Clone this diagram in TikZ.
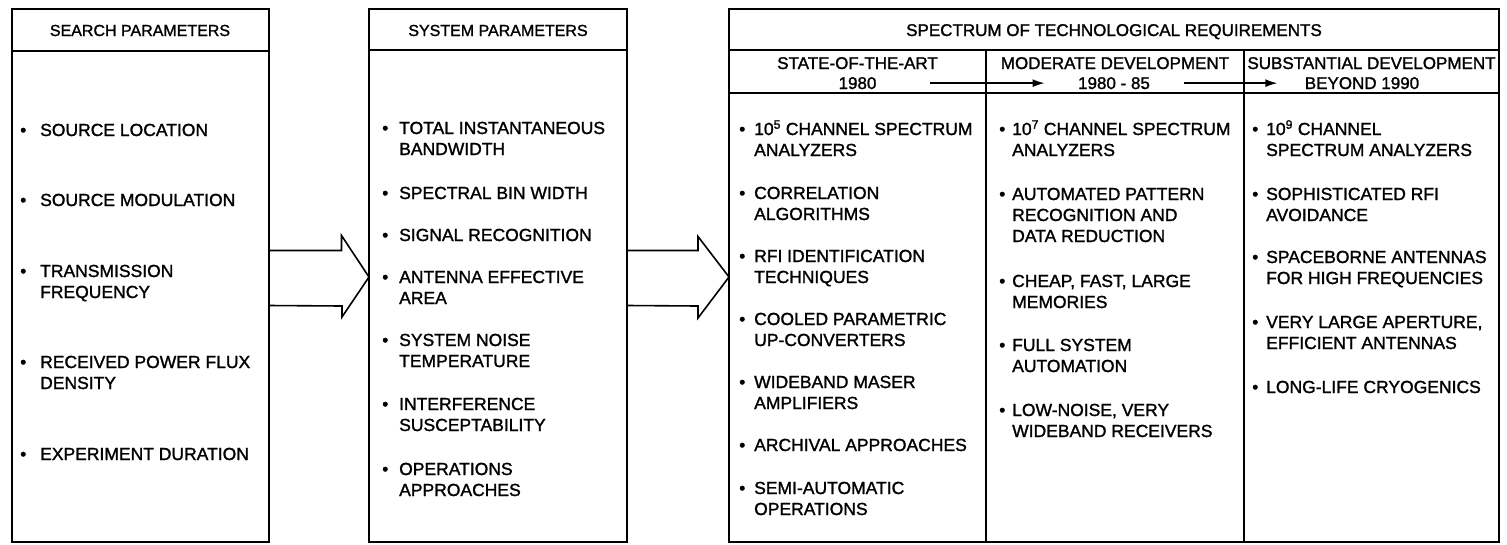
\documentclass[tikz,border=0pt]{standalone}
\usepackage{fontspec}
\setmainfont[FakeBold=1.4]{Liberation Sans}
\usetikzlibrary{arrows.meta, positioning}

% bulleted entry with hanging indent
\newcommand{\itm}[2][14pt]{\parbox[t]{240pt}{\hangindent=#1\hangafter=1\noindent\makebox[#1][l]{\textbullet}#2}}

\begin{document}
\begin{tikzpicture}[x=1pt, y=1pt,
  panel/.style={draw, line width=2pt, inner sep=0pt, outer sep=0pt, anchor=north west, minimum height=533pt},
  divider/.style={line width=2pt},
  hdr/.style={font=\fontsize{16}{19}\selectfont, anchor=base},
  colhdr/.style={font=\fontsize{17}{20}\selectfont, anchor=base},
  entry/.style={font=\fontsize{17.5}{21}\selectfont, anchor=base west, inner sep=0pt},
  bigarrow/.style={line width=1.6pt, line join=miter},
  yeararrow/.style={line width=1.4pt, -{Latex[length=12pt, width=8pt]}}]

  \useasboundingbox (0,0) rectangle (1507,-544);

  % the three panels
  \node[panel, minimum width=257pt] (search) at (11.5,-9) {};
  \node[panel, minimum width=258pt] (system) at (369,-9) {};
  \node[panel, minimum width=770pt] (spectrum) at (729,-9) {};

  \draw[divider] ([yshift=-42pt]search.north west) -- ([yshift=-42pt]search.north east);
  \draw[divider] ([yshift=-41pt]system.north west) -- ([yshift=-41pt]system.north east);
  \draw[divider] ([yshift=-41pt]spectrum.north west) -- ([yshift=-41pt]spectrum.north east);
  \draw[divider] ([yshift=-84pt]spectrum.north west) -- ([yshift=-84pt]spectrum.north east);
  \draw[divider] ([shift={(257pt,-41pt)}]spectrum.north west) -- ([xshift=257pt]spectrum.south west);
  \draw[divider] ([shift={(515pt,-41pt)}]spectrum.north west) -- ([xshift=515pt]spectrum.south west);

  \node[hdr] (searchT) at ([yshift=-27pt]search.north) {SEARCH PARAMETERS};
  \node[hdr] (systemT) at ([yshift=-27pt]system.north) {SYSTEM PARAMETERS};
  \node[colhdr] (spectrumT) at ([yshift=-27pt]spectrum.north) {SPECTRUM OF TECHNOLOGICAL REQUIREMENTS};

  % column heads
  \node[colhdr] (colA) at (857.5,-69) {STATE-OF-THE-ART};
  \node[colhdr] (yrA) at (857.5,-89) {1980};
  \node[colhdr] (colB) at (1115,-69) {MODERATE DEVELOPMENT};
  \node[colhdr] (yrB) at (1114,-89) {1980 - 85};
  \node[colhdr] (colC) at (1371.5,-69) {SUBSTANTIAL DEVELOPMENT};
  \node[colhdr] (yrC) at (1362,-89) {BEYOND 1990};

  \draw[yeararrow] ([xshift=50pt]yrA.east) -- ([xshift=-30pt]yrB.west);
  \draw[yeararrow] ([xshift=31pt]yrB.east) -- ([xshift=-24pt]yrC.west);

  % block arrows between panels
  \draw[bigarrow] ([yshift=25pt]search.east) -- ++(73pt,0) -- ++(0,15pt)
    -- ([yshift=-1.5pt]system.west) -- ++(-27pt,-40pt) -- ++(0,11pt) -- ([yshift=-30pt]search.east);
  \draw[bigarrow] ([yshift=25pt]system.east) -- ++(71pt,0) -- ++(0,14pt)
    -- ([yshift=-1.5pt]spectrum.west) -- ++(-31pt,-41pt) -- ++(0,12pt) -- ([yshift=-30pt]system.east);

  % entries
  \foreach \y/\t [count=\i] in {136/SOURCE LOCATION, 206/SOURCE MODULATION,
      277/{TRANSMISSION\\FREQUENCY}, 368/{RECEIVED POWER FLUX\\DENSITY}, 460/EXPERIMENT DURATION}
    \node[entry] (srch\i) at (20,-\y) {\itm[20pt]{\t}};

  \foreach \y/\t [count=\i] in {134/{TOTAL INSTANTANEOUS\\BANDWIDTH}, 199/SPECTRAL BIN WIDTH,
      241/SIGNAL RECOGNITION, 283/{ANTENNA EFFECTIVE\\AREA}, 346/{SYSTEM NOISE\\TEMPERATURE},
      410/{INTERFERENCE\\SUSCEPTABILITY}, 475/{OPERATIONS\\APPROACHES}}
    \node[entry] (sys\i) at (382,-\y) {\itm[17pt]{\t}};

  \foreach \y/\t [count=\i] in {135/{10\textsuperscript{5} CHANNEL SPECTRUM\\ANALYZERS},
      199/{CORRELATION\\ALGORITHMS}, 262/{RFI IDENTIFICATION\\TECHNIQUES},
      325/{COOLED PARAMETRIC\\UP-CONVERTERS}, 388/{WIDEBAND MASER\\AMPLIFIERS},
      451/ARCHIVAL APPROACHES, 494/{SEMI-AUTOMATIC\\OPERATIONS}}
    \node[entry] (sota\i) at (739,-\y) {\itm[15pt]{\t}};

  \foreach \y/\t [count=\i] in {135/{10\textsuperscript{7} CHANNEL SPECTRUM\\ANALYZERS},
      200/{AUTOMATED PATTERN\\RECOGNITION AND\\DATA REDUCTION}, 287/{CHEAP, FAST, LARGE\\MEMORIES},
      351/{FULL SYSTEM\\AUTOMATION}, 416/{LOW-NOISE, VERY\\WIDEBAND RECEIVERS}}
    \node[entry] (mod\i) at (999,-\y) {\itm[13pt]{\t}};

  \foreach \y/\t [count=\i] in {135/{10\textsuperscript{9} CHANNEL\\SPECTRUM ANALYZERS},
      200/{SOPHISTICATED RFI\\AVOIDANCE}, 263/{SPACEBORNE ANTENNAS\\FOR HIGH FREQUENCIES},
      328/{VERY LARGE APERTURE,\\EFFICIENT ANTENNAS}, 393/LONG-LIFE CRYOGENICS}
    \node[entry] (subs\i) at (1252,-\y) {\itm[14pt]{\t}};
\end{tikzpicture}
\end{document}
